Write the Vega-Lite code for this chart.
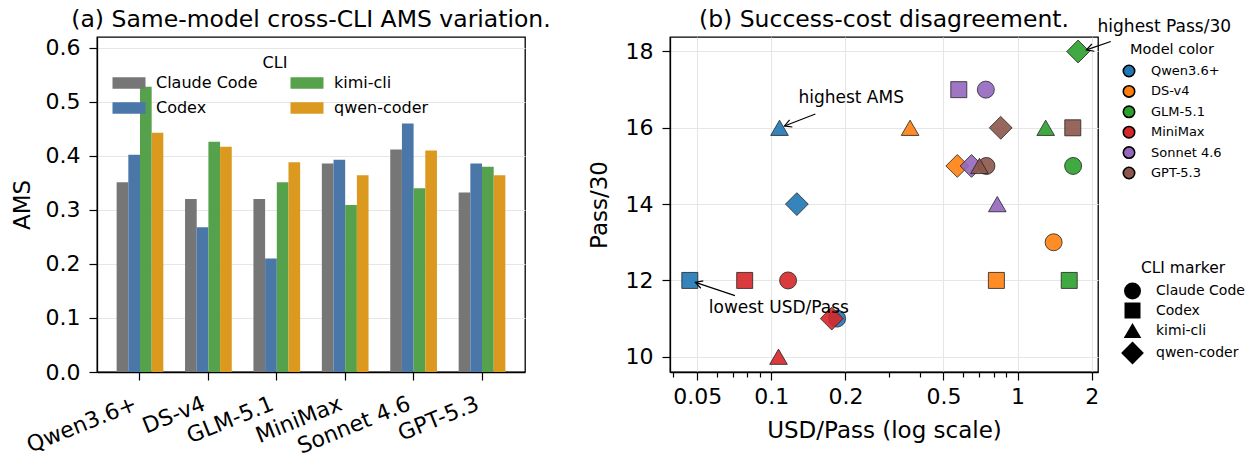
{
  "$schema": "https://vega.github.io/schema/vega-lite/v6.json",
  "background": "white",
  "padding": {"left": 10, "top": 7, "right": 0, "bottom": 0},
  "bounds": "flush",
  "spacing": 145,
  "resolve": {"scale": {"color": "independent", "shape": "independent", "size": "independent"}, "legend": {"color": "independent", "shape": "independent", "size": "independent"}},
  "config": {
    "font": "DejaVu Sans",
    "view": {"stroke": "black", "strokeWidth": 1.3},
    "axis": {
      "domainColor": "black", "domainWidth": 1.3, "tickColor": "black", "tickWidth": 1.2, "tickSize": 8,
      "labelColor": "black", "titleColor": "black", "labelFontSize": 22, "titleFontSize": 23,
      "titleFontWeight": "normal", "gridColor": "#e6e6e6", "gridWidth": 1.1, "labelPadding": 9
    },
    "legend": {"labelColor": "black", "titleColor": "black", "titleFontWeight": "normal", "padding": 0},
    "title": {"fontSize": 23.5, "fontWeight": "normal", "color": "black", "frame": "group"}
  },
  "datasets": {
    "ams": [
      {"model": "Qwen3.6+", "cli": "Claude Code", "ams": 0.351},
      {"model": "Qwen3.6+", "cli": "Codex", "ams": 0.402},
      {"model": "Qwen3.6+", "cli": "kimi-cli", "ams": 0.528},
      {"model": "Qwen3.6+", "cli": "qwen-coder", "ams": 0.443},
      {"model": "DS-v4", "cli": "Claude Code", "ams": 0.320},
      {"model": "DS-v4", "cli": "Codex", "ams": 0.268},
      {"model": "DS-v4", "cli": "kimi-cli", "ams": 0.426},
      {"model": "DS-v4", "cli": "qwen-coder", "ams": 0.417},
      {"model": "GLM-5.1", "cli": "Claude Code", "ams": 0.320},
      {"model": "GLM-5.1", "cli": "Codex", "ams": 0.210},
      {"model": "GLM-5.1", "cli": "kimi-cli", "ams": 0.351},
      {"model": "GLM-5.1", "cli": "qwen-coder", "ams": 0.388},
      {"model": "MiniMax", "cli": "Claude Code", "ams": 0.386},
      {"model": "MiniMax", "cli": "Codex", "ams": 0.393},
      {"model": "MiniMax", "cli": "kimi-cli", "ams": 0.309},
      {"model": "MiniMax", "cli": "qwen-coder", "ams": 0.364},
      {"model": "Sonnet 4.6", "cli": "Claude Code", "ams": 0.412},
      {"model": "Sonnet 4.6", "cli": "Codex", "ams": 0.460},
      {"model": "Sonnet 4.6", "cli": "kimi-cli", "ams": 0.340},
      {"model": "Sonnet 4.6", "cli": "qwen-coder", "ams": 0.410},
      {"model": "GPT-5.3", "cli": "Claude Code", "ams": 0.332},
      {"model": "GPT-5.3", "cli": "Codex", "ams": 0.386},
      {"model": "GPT-5.3", "cli": "kimi-cli", "ams": 0.380},
      {"model": "GPT-5.3", "cli": "qwen-coder", "ams": 0.364}
    ],
    "scatter": [
      {"model": "Qwen3.6+", "cli": "Claude Code", "usd": 0.185, "pass": 11},
      {"model": "Qwen3.6+", "cli": "Codex", "usd": 0.0467, "pass": 12},
      {"model": "Qwen3.6+", "cli": "kimi-cli", "usd": 0.108, "pass": 16},
      {"model": "Qwen3.6+", "cli": "qwen-coder", "usd": 0.127, "pass": 14},
      {"model": "DS-v4", "cli": "Claude Code", "usd": 1.40, "pass": 13},
      {"model": "DS-v4", "cli": "Codex", "usd": 0.82, "pass": 12},
      {"model": "DS-v4", "cli": "kimi-cli", "usd": 0.366, "pass": 16},
      {"model": "DS-v4", "cli": "qwen-coder", "usd": 0.569, "pass": 15},
      {"model": "GLM-5.1", "cli": "Claude Code", "usd": 1.68, "pass": 15},
      {"model": "GLM-5.1", "cli": "Codex", "usd": 1.62, "pass": 12},
      {"model": "GLM-5.1", "cli": "kimi-cli", "usd": 1.30, "pass": 16},
      {"model": "GLM-5.1", "cli": "qwen-coder", "usd": 1.76, "pass": 18},
      {"model": "MiniMax", "cli": "Claude Code", "usd": 0.117, "pass": 12},
      {"model": "MiniMax", "cli": "Codex", "usd": 0.078, "pass": 12},
      {"model": "MiniMax", "cli": "kimi-cli", "usd": 0.107, "pass": 10},
      {"model": "MiniMax", "cli": "qwen-coder", "usd": 0.176, "pass": 11},
      {"model": "Sonnet 4.6", "cli": "Claude Code", "usd": 0.743, "pass": 17},
      {"model": "Sonnet 4.6", "cli": "Codex", "usd": 0.577, "pass": 17},
      {"model": "Sonnet 4.6", "cli": "kimi-cli", "usd": 0.827, "pass": 14},
      {"model": "Sonnet 4.6", "cli": "qwen-coder", "usd": 0.650, "pass": 15},
      {"model": "GPT-5.3", "cli": "Claude Code", "usd": 0.747, "pass": 15},
      {"model": "GPT-5.3", "cli": "Codex", "usd": 1.675, "pass": 16},
      {"model": "GPT-5.3", "cli": "kimi-cli", "usd": 0.70, "pass": 15},
      {"model": "GPT-5.3", "cli": "qwen-coder", "usd": 0.854, "pass": 16}
    ],
    "notes": [
      {"label": "highest AMS", "tx": 0.211, "ty": 16.775, "ax": 0.151, "ay": 16.363, "bx": 0.1131, "by": 16.049},
      {"label": "lowest USD/Pass", "tx": 0.1073, "ty": 11.267, "ax": 0.0712, "ay": 11.6, "bx": 0.0492, "by": 11.949},
      {"label": "highest Pass/30", "tx": 3.94, "ty": 18.63, "ax": 2.389, "ay": 18.262, "bx": 1.903, "by": 18.042}
    ]
  },
  "hconcat": [
    {
      "width": 428,
      "height": 335,
      "title": {"text": "(a) Same-model cross-CLI AMS variation.", "offset": 5},
      "data": {"name": "ams"},
      "mark": {"type": "bar"},
      "encoding": {
        "x": {
          "field": "model", "type": "nominal",
          "sort": ["Qwen3.6+", "DS-v4", "GLM-5.1", "MiniMax", "Sonnet 4.6", "GPT-5.3"],
          "scale": {"paddingInner": 0.317, "paddingOuter": 0.287},
          "axis": {"title": null, "labelAngle": -22, "labelAlign": "right", "labelBaseline": "top", "labelPadding": 13, "labelOffset": -8, "grid": false}
        },
        "xOffset": {
          "field": "cli", "type": "nominal",
          "sort": ["Claude Code", "Codex", "kimi-cli", "qwen-coder"],
          "scale": {"paddingInner": 0, "paddingOuter": 0}
        },
        "y": {
          "field": "ams", "type": "quantitative",
          "scale": {"domain": [0, 0.62], "nice": false},
          "axis": {"title": "AMS", "values": [0, 0.1, 0.2, 0.3, 0.4, 0.5, 0.6], "format": ".1f", "grid": true, "titlePadding": 11}
        },
        "color": {
          "field": "cli", "type": "nominal",
          "scale": {"domain": ["Claude Code", "Codex", "kimi-cli", "qwen-coder"], "range": ["#767676", "#4a77a8", "#56a14b", "#db9a1f"]},
          "legend": {
            "title": "CLI", "orient": "none", "legendX": 24, "legendY": 18,
            "columns": 2, "columnPadding": 32, "rowPadding": 9, "titlePadding": 4,
            "titleAnchor": "middle", "titleFontSize": 16, "labelFontSize": 16,
            "symbolType": "M-2.75,-0.975L2.75,-0.975L2.75,0.975L-2.75,0.975Z", "symbolSize": 144,
            "symbolStrokeWidth": 0, "symbolOpacity": 1, "labelOffset": 19
          }
        }
      }
    },
    {
      "width": 428,
      "height": 335,
      "title": {"text": "(b) Success-cost disagreement.", "offset": -13},
      "layer": [
        {
          "data": {"name": "scatter"},
          "mark": {"type": "point", "filled": true, "opacity": 1, "fillOpacity": 0.9, "stroke": "#222222", "strokeWidth": 0.8},
          "encoding": {
            "x": {
              "field": "usd", "type": "quantitative", "title": "USD/Pass (log scale)",
              "scale": {"type": "log", "domain": [0.0388, 2.12], "nice": false},
              "axis": {
                "values": [0.04, 0.05, 0.06, 0.07, 0.08, 0.09, 0.1, 0.2, 0.3, 0.4, 0.5, 0.6, 0.7, 0.8, 0.9, 1, 2],
                "labelExpr": "indexof([0.05, 0.1, 0.2, 0.5, 1, 2], datum.value) >= 0 ? format(datum.value, '~g') : ''",
                "tickSize": {"condition": {"test": "indexof([0.05, 0.1, 0.2, 0.5, 1, 2], datum.value) >= 0", "value": 8}, "value": 5},
                "gridOpacity": {"condition": {"test": "indexof([0.05, 0.1, 0.2, 0.5, 1, 2], datum.value) >= 0", "value": 1}, "value": 0},
                "grid": true, "labelPadding": 6, "titlePadding": 12
              }
            },
            "y": {
              "field": "pass", "type": "quantitative", "title": "Pass/30",
              "scale": {"domain": [9.6, 18.38], "nice": false},
              "axis": {"values": [10, 12, 14, 16, 18], "grid": true, "titlePadding": 14}
            },
            "color": {
              "field": "model", "type": "nominal",
              "scale": {
                "domain": ["Qwen3.6+", "DS-v4", "GLM-5.1", "MiniMax", "Sonnet 4.6", "GPT-5.3"],
                "range": ["#1f77b4", "#ff7f0e", "#2ca02c", "#d62728", "#9467bd", "#8c564b"]
              },
              "legend": {
                "title": "Model color", "orient": "none", "legendX": 452, "legendY": 5.5,
                "titleAnchor": "middle", "titleFontSize": 14.5, "labelFontSize": 13,
                "symbolType": "circle", "symbolSize": 130, "symbolStrokeColor": "black", "symbolStrokeWidth": 1.6,
                "symbolOpacity": 1, "symbolFillOpacity": 1, "rowPadding": 2.4, "labelOffset": 15, "titlePadding": 7
              }
            },
            "shape": {
              "field": "cli", "type": "nominal",
              "scale": {"domain": ["Claude Code", "Codex", "kimi-cli", "qwen-coder"], "range": ["circle", "square", "triangle-up", "diamond"]},
              "legend": {
                "title": "CLI marker", "orient": "none", "legendX": 451, "legendY": 224,
                "titleAnchor": "middle", "titleFontSize": 15.5, "labelFontSize": 14,
                "symbolFillColor": "black", "symbolStrokeColor": "black", "symbolStrokeWidth": 0,
                "symbolOpacity": 1, "rowPadding": 3, "labelOffset": 12, "titlePadding": 6
              }
            },
            "size": {
              "field": "cli", "type": "nominal",
              "scale": {"type": "ordinal", "domain": ["Claude Code", "Codex", "kimi-cli", "qwen-coder"], "range": [289, 256, 310, 520]}
            }
          }
        },
        {
          "data": {"name": "notes"},
          "mark": {"type": "rule", "color": "black", "strokeWidth": 1.2},
          "encoding": {
            "x": {"field": "ax", "type": "quantitative", "title": "USD/Pass (log scale)"},
            "y": {"field": "ay", "type": "quantitative", "title": "Pass/30"},
            "x2": {"field": "bx"},
            "y2": {"field": "by"}
          }
        },
        {
          "data": {"name": "notes"},
          "transform": [{"filter": "datum.label == 'highest AMS'"}],
          "mark": {"type": "point", "shape": "M-1,-0.55L0,0L-1,0.55", "filled": false, "stroke": "black", "strokeWidth": 1.2, "opacity": 1, "size": 196, "angle": 159},
          "encoding": {
            "x": {"field": "bx", "type": "quantitative", "title": "USD/Pass (log scale)"},
            "y": {"field": "by", "type": "quantitative", "title": "Pass/30"}
          }
        },
        {
          "data": {"name": "notes"},
          "transform": [{"filter": "datum.label == 'lowest USD/Pass'"}],
          "mark": {"type": "point", "shape": "M-1,-0.55L0,0L-1,0.55", "filled": false, "stroke": "black", "strokeWidth": 1.2, "opacity": 1, "size": 196, "angle": 198.6},
          "encoding": {
            "x": {"field": "bx", "type": "quantitative", "title": "USD/Pass (log scale)"},
            "y": {"field": "by", "type": "quantitative", "title": "Pass/30"}
          }
        },
        {
          "data": {"name": "notes"},
          "transform": [{"filter": "datum.label == 'highest Pass/30'"}],
          "mark": {"type": "point", "shape": "M-1,-0.55L0,0L-1,0.55", "filled": false, "stroke": "black", "strokeWidth": 1.2, "opacity": 1, "size": 196, "angle": 161},
          "encoding": {
            "x": {"field": "bx", "type": "quantitative", "title": "USD/Pass (log scale)"},
            "y": {"field": "by", "type": "quantitative", "title": "Pass/30"}
          }
        },
        {
          "data": {"name": "notes"},
          "mark": {"type": "text", "fontSize": 17, "align": "center", "baseline": "middle", "color": "black"},
          "encoding": {
            "x": {"field": "tx", "type": "quantitative", "title": "USD/Pass (log scale)"},
            "y": {"field": "ty", "type": "quantitative", "title": "Pass/30"},
            "text": {"field": "label"}
          }
        }
      ]
    }
  ]
}
